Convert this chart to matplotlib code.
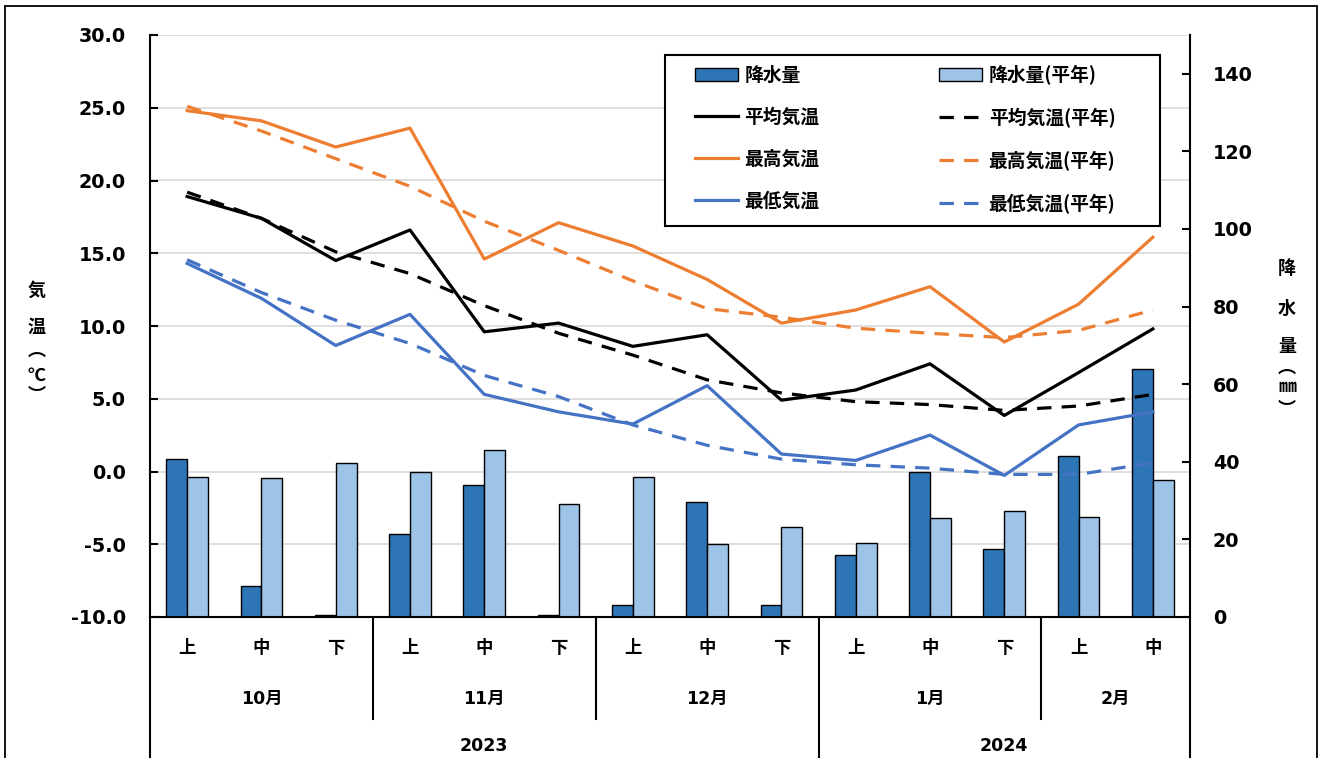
import matplotlib
matplotlib.use('Agg')
import matplotlib.pyplot as plt
import matplotlib.transforms as mtransforms
from matplotlib.patches import Rectangle
import numpy as np

plt.rcParams['font.family'] = ['DejaVu Sans', 'Noto Sans CJK JP']

# ---------------- data ----------------
periods = ['上', '中', '下', '上', '中', '下', '上', '中', '下', '上', '中', '下', '上', '中']
months = ['10月', '11月', '12月', '1月', '2月']
month_sizes = [3, 3, 3, 3, 2]
years = ['2023', '2024']
year_sizes = [9, 5]

precip = [40.6, 8.1, 0.5, 21.5, 34.1, 0.5, 3.0, 29.7, 3.0, 16.1, 37.5, 17.6, 41.5, 63.8]
precip_normal = [36.2, 35.9, 39.6, 37.5, 43.0, 29.0, 36.2, 18.8, 23.1, 19.0, 25.6, 27.3, 25.8, 35.3]
t_mean = [18.9, 17.4, 14.5, 16.6, 9.6, 10.2, 8.6, 9.4, 4.9, 5.6, 7.4, 3.85, 6.8, 9.8]
t_mean_normal = [19.2, 17.4, 15.1, 13.6, 11.4, 9.5, 8.0, 6.3, 5.4, 4.8, 4.6, 4.2, 4.5, 5.3]
t_max = [24.8, 24.1, 22.3, 23.6, 14.6, 17.1, 15.5, 13.2, 10.2, 11.1, 12.7, 8.9, 11.5, 16.1]
t_max_normal = [25.1, 23.4, 21.5, 19.6, 17.2, 15.2, 13.1, 11.2, 10.6, 9.85, 9.5, 9.2, 9.7, 11.1]
t_min = [14.3, 11.9, 8.66, 10.8, 5.3, 4.1, 3.26, 5.9, 1.2, 0.76, 2.5, -0.27, 3.2, 4.1]
t_min_normal = [14.55, 12.3, 10.4, 8.8, 6.6, 5.15, 3.2, 1.8, 0.85, 0.46, 0.23, -0.2, -0.2, 0.6]

temp_ticks = [-10, -5, 0, 5, 10, 15, 20, 25, 30]
precip_ticks = [0, 20, 40, 60, 80, 100, 120, 140]

# ---------------- style ----------------
C_DARK = '#2E75B6'
C_LIGHT = '#9DC3E6'
C_BLACK = '#000000'
C_ORANGE = '#ED7D31'
C_BLUE = '#4472C4'
CJK = ['Noto Sans CJK JP', 'DejaVu Sans']
MIX = ['DejaVu Sans', 'Noto Sans CJK JP']
LW = 2.3
DASH = (0, (4.5, 3.2))

W, H = 1328, 758
fig = plt.figure(figsize=(W / 100, H / 100), dpi=100)

px_l, px_r, px_b, px_t = 150, 1190, 617, 35
L, R = px_l / W, px_r / W
B, T = (H - px_b) / H, (H - px_t) / H
ax = fig.add_axes([L, B, R - L, T - B])   # precipitation (right axis)
ax2 = ax.twinx()                           # temperature (left axis)

x = np.arange(len(periods))
TMIN, TMAX = -10, 30
PMAX = 150

ax.set_xlim(-0.5, len(periods) - 0.5)
ax.set_ylim(0, PMAX)
ax2.set_ylim(TMIN, TMAX)

# gridlines (temperature majors) drawn behind bars
for t in temp_ticks[1:]:
    ax.axhline((t - TMIN) / (TMAX - TMIN) * PMAX, color='#d9d9d9', lw=1.2, zorder=0)

bw = 0.28
b1 = ax.bar(x - bw / 2, precip, bw, color=C_DARK, edgecolor='black', lw=1.0, zorder=2)
b2 = ax.bar(x + bw / 2, precip_normal, bw, color=C_LIGHT, edgecolor='black', lw=1.0, zorder=2)

l_mean, = ax2.plot(x, t_mean, color=C_BLACK, lw=LW)
l_mean_n, = ax2.plot(x, t_mean_normal, color=C_BLACK, lw=LW, ls=DASH)
l_max, = ax2.plot(x, t_max, color=C_ORANGE, lw=LW)
l_max_n, = ax2.plot(x, t_max_normal, color=C_ORANGE, lw=LW, ls=DASH)
l_min, = ax2.plot(x, t_min, color=C_BLUE, lw=LW)
l_min_n, = ax2.plot(x, t_min_normal, color=C_BLUE, lw=LW, ls=DASH)

# axes placement
ax.yaxis.tick_right()
ax2.yaxis.tick_left()
ax.set_yticks(precip_ticks, [str(v) for v in precip_ticks], fontweight='bold', fontsize=13.8)
ax2.set_yticks(temp_ticks, [f'{v:.1f}' for v in temp_ticks], fontweight='bold', fontsize=13.8)
ax.tick_params(axis='y', direction='in', length=6, width=1.5, pad=16.5, right=True, left=False)
ax2.tick_params(axis='y', direction='in', length=6, width=1.5, pad=17.3, left=True, right=False)

for a in (ax, ax2):
    a.spines['top'].set_visible(False)
ax.spines['left'].set_visible(False)
ax2.spines['right'].set_visible(False)
ax2.spines['bottom'].set_visible(False)
ax.spines['right'].set_linewidth(1.5)
ax2.spines['left'].set_linewidth(1.5)
ax.spines['bottom'].set_linewidth(1.5)

# category axis
trans = mtransforms.blended_transform_factory(ax.transData, ax.transAxes)
ah = px_b - px_t
ax.set_xticks(x, [''] * len(x))
ax.tick_params(axis='x', length=0)
y_period = -(648 - px_b) / ah
y_month = -(699 - px_b) / ah
y_year = -(746 - px_b) / ah
y_sep = -(719 - px_b) / ah
y_bot = -(H + 5 - px_b) / ah

for xi, p in zip(x, periods):
    ax.text(xi, y_period, p, transform=trans, ha='center', va='center',
            fontsize=12.5, fontweight='bold', family=CJK)
start = -0.5
for m, n in zip(months, month_sizes):
    ax.text(start + n / 2, y_month, m, transform=trans, ha='center', va='center',
            fontsize=12.5, fontweight='bold', family=MIX)
    start += n
start = -0.5
for yv, n in zip(years, year_sizes):
    ax.text(start + n / 2, y_year, yv, transform=trans, ha='center', va='center',
            fontsize=12.5, fontweight='bold', family=MIX)
    start += n

month_edges = np.cumsum(month_sizes)[:-1] - 0.5
year_edges = np.cumsum(year_sizes)[:-1] - 0.5
for e in month_edges:
    if e in year_edges:
        continue
    ax.plot([e, e], [0, y_sep], transform=trans, color='black', lw=1.5, clip_on=False)
for e in list(year_edges) + [-0.5, len(periods) - 0.5]:
    ax.plot([e, e], [0, y_bot], transform=trans, color='black', lw=1.5, clip_on=False)

# vertical axis titles (stacked characters)
left_chars = [('気', 290), ('温', 327), ('︵', 350), ('℃', 375), ('︶', 395)]
for ch, yy in left_chars:
    fig.text(37 / W, (H - yy) / H, ch, ha='center', va='center', fontsize=13,
             fontweight='bold', family=CJK)
right_chars = [('降', 269), ('水', 308), ('量', 347), ('︵', 367), ('㎜', 387), ('︶', 409)]
for ch, yy in right_chars:
    fig.text(1287 / W, (H - yy) / H, ch, ha='center', va='center', fontsize=13,
             fontweight='bold', family=CJK)

# legend (frame drawn separately)
handles = [b1, l_mean, l_max, l_min, b2, l_mean_n, l_max_n, l_min_n]
labels = ['降水量', '平均気温', '最高気温', '最低気温',
          '降水量(平年)', '平均気温(平年)', '最高気温(平年)', '最低気温(平年)']
leg = ax2.legend(handles, labels, ncol=2, loc='upper left',
                 bbox_to_anchor=(695 / W, (H - 65) / H), bbox_transform=fig.transFigure,
                 borderaxespad=0, borderpad=0, frameon=False,
                 prop=dict(family=CJK, weight='bold', size=13.5),
                 handlelength=2.3, handletextpad=0.33, labelspacing=1.22,
                 columnspacing=6.4)
ax2.add_patch(Rectangle((665 / W, (H - 226) / H), (1160 - 665) / W, (226 - 55) / H,
                        transform=fig.transFigure, facecolor='white', edgecolor='black',
                        lw=1.5, zorder=4.5, clip_on=False))
leg.set_zorder(5)
ax.set_zorder(1)
ax2.set_zorder(2)
ax2.patch.set_visible(False)

# outer chart frame
fig.patches.append(Rectangle((5 / W, -0.05), (1317 - 5) / W, (H - 5.5) / H + 0.05,
                             transform=fig.transFigure, fill=False, edgecolor='black', lw=1.3))

fig.savefig('out.png', dpi=100)
